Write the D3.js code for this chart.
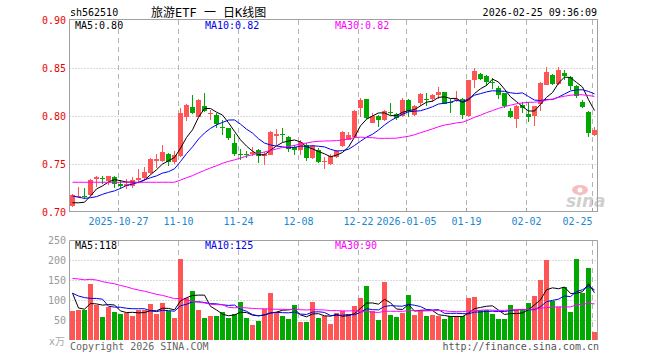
<!DOCTYPE html>
<html><head><meta charset="utf-8">
<script src="https://cdn.jsdelivr.net/npm/d3@7"></script>
<style>body{margin:0;background:#fff}svg{display:block}</style>
</head><body><svg id="c" width="660" height="360"></svg>
<script>
// ---------------- data ----------------
const symbol = "sh562510";
const title = "旅游ETF 一 日K线图";
const stamp = "2026-02-25 09:36:09";
const dates = ["2025-10-15","2025-10-16","2025-10-17","2025-10-20","2025-10-21","2025-10-22","2025-10-23","2025-10-24",
"2025-10-27","2025-10-28","2025-10-29","2025-10-30","2025-10-31","2025-11-03","2025-11-04","2025-11-05","2025-11-06","2025-11-07",
"2025-11-10","2025-11-11","2025-11-12","2025-11-13","2025-11-14","2025-11-17","2025-11-18","2025-11-19","2025-11-20","2025-11-21",
"2025-11-24","2025-11-25","2025-11-26","2025-11-27","2025-11-28","2025-12-01","2025-12-02","2025-12-03","2025-12-04","2025-12-05",
"2025-12-08","2025-12-09","2025-12-10","2025-12-11","2025-12-12","2025-12-15","2025-12-16","2025-12-17","2025-12-18","2025-12-19",
"2025-12-22","2025-12-23","2025-12-24","2025-12-25","2025-12-26","2025-12-29","2025-12-30","2025-12-31",
"2026-01-05","2026-01-06","2026-01-07","2026-01-08","2026-01-09","2026-01-12","2026-01-13","2026-01-14","2026-01-15","2026-01-16",
"2026-01-19","2026-01-20","2026-01-21","2026-01-22","2026-01-23","2026-01-26","2026-01-27","2026-01-28","2026-01-29","2026-01-30",
"2026-02-02","2026-02-03","2026-02-04","2026-02-05","2026-02-06","2026-02-09","2026-02-10","2026-02-11","2026-02-12","2026-02-13",
"2026-02-24","2026-02-25"];
const open = [0.706,0.716,0.717,0.718,0.734,0.735,0.732,0.736,0.729,0.727,0.727,0.733,0.735,0.741,0.753,0.753,0.760,0.752,0.758,0.799,
0.809,0.799,0.810,0.802,0.801,0.789,0.787,0.772,0.760,0.760,0.760,0.765,0.758,0.759,0.779,0.781,0.778,0.768,0.765,0.770,
0.756,0.765,0.752,0.750,0.757,0.769,0.775,0.778,0.808,0.818,0.793,0.800,0.796,0.804,0.802,0.800,0.817,0.801,0.814,0.818,
0.818,0.822,0.825,0.815,0.817,0.818,0.800,0.837,0.844,0.842,0.835,0.829,0.824,0.805,0.797,0.811,0.802,0.800,0.813,0.832,
0.843,0.833,0.845,0.841,0.831,0.815,0.804,0.780];
const high = [0.719,0.726,0.725,0.734,0.737,0.737,0.738,0.738,0.733,0.734,0.736,0.745,0.747,0.756,0.760,0.770,0.761,0.764,0.808,0.813,
0.822,0.818,0.824,0.806,0.803,0.796,0.787,0.781,0.766,0.764,0.768,0.766,0.763,0.784,0.786,0.787,0.779,0.770,0.775,0.772,
0.770,0.767,0.757,0.760,0.765,0.784,0.783,0.806,0.819,0.818,0.803,0.801,0.806,0.814,0.803,0.819,0.818,0.811,0.824,0.824,
0.823,0.830,0.825,0.818,0.826,0.819,0.838,0.850,0.845,0.843,0.840,0.831,0.824,0.808,0.811,0.815,0.815,0.810,0.835,0.851,
0.844,0.851,0.848,0.842,0.832,0.817,0.805,0.789];
const low = [0.705,0.715,0.714,0.717,0.726,0.729,0.728,0.725,0.724,0.724,0.725,0.730,0.733,0.740,0.746,0.752,0.748,0.750,0.757,0.795,
0.802,0.799,0.804,0.796,0.787,0.780,0.775,0.758,0.754,0.756,0.758,0.751,0.749,0.759,0.770,0.773,0.763,0.759,0.759,0.753,
0.755,0.751,0.745,0.749,0.756,0.768,0.775,0.778,0.799,0.797,0.793,0.789,0.795,0.801,0.796,0.799,0.799,0.800,0.810,0.810,
0.815,0.818,0.812,0.803,0.815,0.797,0.799,0.829,0.838,0.831,0.828,0.818,0.808,0.798,0.787,0.803,0.794,0.790,0.805,0.832,
0.832,0.832,0.837,0.827,0.819,0.808,0.778,0.779];
const close = [0.718,0.717,0.716,0.733,0.736,0.734,0.737,0.729,0.727,0.729,0.733,0.735,0.742,0.755,0.755,0.763,0.752,0.759,0.803,0.811,
0.803,0.817,0.805,0.803,0.792,0.788,0.777,0.760,0.759,0.759,0.762,0.758,0.760,0.783,0.781,0.780,0.766,0.765,0.773,0.756,
0.769,0.752,0.753,0.758,0.764,0.783,0.780,0.805,0.817,0.798,0.800,0.796,0.805,0.803,0.798,0.817,0.805,0.810,0.823,0.817,
0.822,0.825,0.813,0.814,0.818,0.801,0.837,0.847,0.839,0.835,0.834,0.822,0.810,0.799,0.810,0.808,0.799,0.810,0.834,0.846,
0.833,0.848,0.842,0.831,0.821,0.809,0.782,0.785];
const volume = [72,75,75,141,88,57,82,70,66,68,60,75,74,90,66,93,72,56,202,105,
122,76,56,61,61,69,56,66,96,56,37,47,77,118,69,61,52,87,44,46,
96,56,60,40,68,72,65,85,105,135,73,50,145,62,57,68,112,62,72,60,
62,60,52,60,60,60,105,107,75,75,65,52,52,87,74,74,93,111,150,200,
98,82,132,70,202,118,180,21];
// closes / volumes of the 29 sessions before the window (estimated, only feed the moving averages)
const priorClose = [0.719,0.715,0.731,0.737,0.735,0.736,0.731,0.726,0.730,0.732,0.736,0.741,0.754,0.756,0.762,0.753,0.758,
0.735,0.738,0.738,0.730,0.728,0.726,0.725,0.710,0.717,0.713,0.701,0.699];
const priorVolume = [120,135,110,134,180,165,150,190,168,200,175,160,210,185,170,195,178,185,230,210,
145,115,160,90,75,260,90,70,93];
const maPeriods = [5, 10, 30];
const maColors = ["#000000", "#0000ee", "#ff00ff"];
const priceMaLabels = ["MA5:0.80", "MA10:0.82", "MA30:0.82"];
const volMaLabels = ["MA5:118", "MA10:125", "MA30:90"];
const priceTicks = [0.70, 0.75, 0.80, 0.85, 0.90];
const volTicks = [50, 100, 150, 200, 250];
const dateTickIdx = [8, 18, 28, 38, 48, 56, 66, 76, 87];
const dateTickLabels = ["2025-10-27","11-10","11-24","12-08","12-22","2026-01-05","01-19","02-02","02-25"];

// ---------------- drawing ----------------
const svg = d3.select("#c");
const mono = "'DejaVu Sans Mono','Liberation Mono',monospace";
const RED = "#ff5555", GREEN = "#00a800", GRID = "#b4b4b4", BORDER = "#a0a0a0";
const L = 69.5, R = 597.5;
const x = d3.scaleBand().domain(d3.range(close.length)).range([L, R]);
const y = d3.scaleLinear().domain([0.70, 0.90]).range([212, 20]);
const yv = d3.scaleLinear().domain([0, 250]).range([340, 240]);

function movingAvg(all, n, offset) {
  return d3.range(offset, all.length).map(k => d3.mean(all.slice(k - n + 1, k + 1)));
}
const allClose = priorClose.concat(close), allVol = priorVolume.concat(volume);

// header
svg.append("text").attr("x", 70).attr("y", 16).attr("font-family", mono).attr("font-size", 10).text(symbol);
svg.append("text").attr("x", 151).attr("y", 17).attr("font-family", "'DejaVu Sans Mono','Noto Sans CJK SC',monospace")
  .attr("font-size", 12).text(title);
svg.append("text").attr("x", 597).attr("y", 16).attr("text-anchor", "end").attr("font-family", mono).attr("font-size", 10).text(stamp);

// ---- price panel grid ----
const gP = svg.append("g");
gP.selectAll(".hg").data(priceTicks.filter(v => v > 0.70 && v < 0.90)).join("line")
  .attr("x1", L).attr("x2", R).attr("y1", d => Math.round(y(d)) + 0.5).attr("y2", d => Math.round(y(d)) + 0.5)
  .attr("stroke", GRID).attr("stroke-dasharray", "1,2");
gP.selectAll(".vg").data(dateTickIdx).join("line")
  .attr("x1", d => x(d) + 1).attr("x2", d => x(d) + 1).attr("y1", 20).attr("y2", 211)
  .attr("stroke", GRID).attr("stroke-dasharray", "5,4");
gP.selectAll(".tk").data(dateTickIdx).join("line")
  .attr("x1", d => x(d) + 1).attr("x2", d => x(d) + 1).attr("y1", 208).attr("y2", 211.5)
  .attr("stroke", BORDER);
gP.append("rect").attr("x", L).attr("y", 19.5).attr("width", R - L).attr("height", 192)
  .attr("fill", "none").attr("stroke", BORDER);
gP.selectAll(".pl").data(priceTicks).join("text")
  .attr("x", 66).attr("y", d => y(d) + 4).attr("text-anchor", "end")
  .attr("font-family", mono).attr("font-size", 10).attr("fill", "#ee0000").text(d => d.toFixed(2));

// watermark
const wm = svg.append("g").attr("opacity", 0.55);
wm.append("ellipse").attr("cx", 580).attr("cy", 190).attr("rx", 8).attr("ry", 5).attr("fill", "#f08a8a");
wm.append("circle").attr("cx", 580).attr("cy", 190).attr("r", 2.5).attr("fill", "#fff");
wm.append("text").attr("x", 566).attr("y", 207).attr("font-family", "'DejaVu Sans',sans-serif")
  .attr("font-size", 17).attr("font-weight", "bold").attr("font-style", "italic").attr("fill", "#aaaaaa").text("sina");

// candles
const up = i => close[i] >= open[i];
const gC = svg.append("g").attr("shape-rendering", "crispEdges");
gC.selectAll(".wk").data(d3.range(close.length)).join("rect")
  .attr("x", i => x(i) + 2.5).attr("width", 1)
  .attr("y", i => y(high[i])).attr("height", i => Math.max(1, y(low[i]) - y(high[i])))
  .attr("fill", i => up(i) ? RED : GREEN);
gC.selectAll(".bd").data(d3.range(close.length)).join("rect")
  .attr("x", i => x(i) + 0.5).attr("width", 5)
  .attr("y", i => y(Math.max(open[i], close[i])))
  .attr("height", i => Math.max(1, Math.abs(y(open[i]) - y(close[i]))))
  .attr("fill", i => up(i) ? RED : GREEN);

// price MAs
maPeriods.forEach((n, k) => {
  const ma = movingAvg(allClose, n, priorClose.length);
  svg.append("path").datum(ma).attr("fill", "none").attr("stroke", maColors[k]).attr("stroke-width", 1)
    .attr("d", d3.line().x((d, i) => x(i) + 3).y(d => y(d)));
});
priceMaLabels.forEach((t, k) => {
  svg.append("text").attr("x", [75, 205, 335][k]).attr("y", 29).attr("font-family", mono).attr("font-size", 10)
    .attr("fill", maColors[k]).text(t);
});

// date labels
svg.selectAll(".dl").data(dateTickIdx).join("text")
  .attr("x", d => x(d) + 1).attr("y", 225)
  .attr("text-anchor", (d, i) => i === dateTickIdx.length - 1 ? "end" : "middle")
  .attr("font-family", mono).attr("font-size", 10).attr("fill", "#1b87cf")
  .text((d, i) => dateTickLabels[i]);

// ---- volume panel ----
const gV = svg.append("g");
gV.selectAll(".hg").data(volTicks.filter(v => v < 250)).join("line")
  .attr("x1", L).attr("x2", R).attr("y1", d => Math.round(yv(d)) + 0.5).attr("y2", d => Math.round(yv(d)) + 0.5)
  .attr("stroke", GRID).attr("stroke-dasharray", "1,2");
gV.selectAll(".vg").data(dateTickIdx).join("line")
  .attr("x1", d => x(d) + 1).attr("x2", d => x(d) + 1).attr("y1", 241).attr("y2", 340)
  .attr("stroke", GRID).attr("stroke-dasharray", "5,4");
gV.append("path").attr("d", `M${L},340V240.5H${R}V340`).attr("fill", "none").attr("stroke", BORDER);
gV.selectAll(".vl").data(volTicks).join("text")
  .attr("x", 66).attr("y", d => yv(d) + 4).attr("text-anchor", "end")
  .attr("font-family", mono).attr("font-size", 10).attr("fill", "#999").text(d => d);
svg.append("text").attr("x", 49).attr("y", 345).attr("font-family", "'DejaVu Sans','Noto Sans CJK SC',sans-serif")
  .attr("font-size", 10).attr("fill", "#aaa").text("x万");

svg.append("g").attr("shape-rendering", "crispEdges")
  .selectAll("rect").data(d3.range(volume.length)).join("rect")
  .attr("x", i => x(i) + 0.5).attr("width", 5)
  .attr("y", i => yv(volume[i])).attr("height", i => yv(0) - yv(volume[i]))
  .attr("fill", i => up(i) ? RED : GREEN);

maPeriods.forEach((n, k) => {
  const ma = movingAvg(allVol, n, priorVolume.length);
  svg.append("path").datum(ma).attr("fill", "none").attr("stroke", maColors[k]).attr("stroke-width", 1)
    .attr("d", d3.line().x((d, i) => x(i) + 3).y(d => yv(d)));
});
volMaLabels.forEach((t, k) => {
  svg.append("text").attr("x", [75, 205, 335][k]).attr("y", 249).attr("font-family", mono).attr("font-size", 10)
    .attr("fill", maColors[k]).text(t);
});

// footer
svg.append("text").attr("x", 70).attr("y", 350).attr("font-family", mono).attr("font-size", 10).attr("fill", "#666")
  .text("Copyright 2026 SINA.COM");
svg.append("text").attr("x", 599).attr("y", 350).attr("text-anchor", "end").attr("font-family", mono)
  .attr("font-size", 10).attr("fill", "#555").text("http://finance.sina.com.cn");
</script></body></html>
